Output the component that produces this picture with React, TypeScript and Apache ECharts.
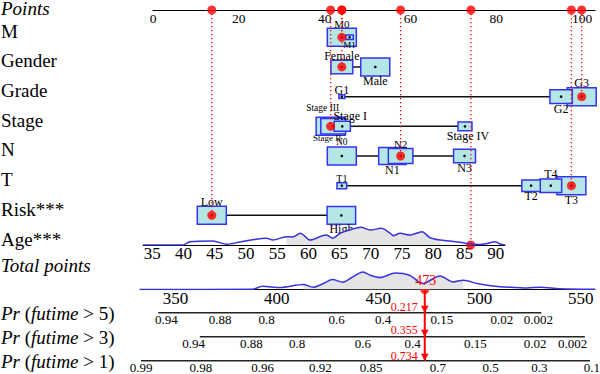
import React, { useEffect, useRef } from 'react';
import * as echarts from 'echarts';

const FONT = '"Liberation Serif", "Times New Roman", serif';

// ---------- Points axis ----------
const pointsTicks = [0, 20, 40, 60, 80, 100];

// ---------- Categorical predictors (levels, points, frequencies) ----------
const rowLabels = ['M', 'Gender', 'Grade', 'Stage', 'N', 'T', 'Risk***', 'Age***'];

const mLevels = ['M0', 'M1'];
const mPoints = [44.0, 45.8];
const mCounts = [330, 22];

const genderLevels = ['Female', 'Male'];
const genderPoints = [44.0, 51.8];
const genderCounts = [127, 225];

const gradeLevels = ['G1', 'G2', 'G3'];
const gradePoints = [44.0, 95.1, 99.9];
const gradeCounts = [9, 128, 215];

const stageLevels = ['Stage I', 'Stage II', 'Stage III', 'Stage IV'];
const stagePoints = [44.1, 42.0, 41.4, 72.7];
const stageCounts = [47, 110, 150, 35];

const nLevels = ['N0', 'N1', 'N2', 'N3'];
const nPoints = [44.0, 55.8, 57.7, 72.6];
const nCounts = [105, 95, 75, 60];

const tLevels = ['T1', 'T2', 'T3', 'T4'];
const tPoints = [44.0, 88.1, 97.5, 92.7];
const tCounts = [18, 65, 160, 90];

const riskLevels = ['Low', 'High'];
const riskPoints = [13.7, 43.9];
const riskCounts = [176, 170];

const selectedLevels = ['M0', 'Female', 'G3', 'Stage III', 'N2', 'T3', 'Low'];

// ---------- Age (continuous) ----------
const ageTicks = [35, 40, 45, 50, 55, 60, 65, 70, 75, 80, 85, 90];
const ageAxisRange = [33.5, 91.5];
const agePointsAt35 = 0;
const agePointsAt90 = 79.9;
const patientAge = 86;
const ageDensityX = [33.5, 39.9, 41, 44.7, 46.9, 49, 51.1, 53.3, 54.3, 56.5, 57.5, 58.7, 60.3, 62.1, 62.9, 63.9, 65.1, 67.1, 68.4, 69.9, 71.7, 73.1, 73.6, 74.7, 76.3, 78.2, 79.5, 81.1, 82.7, 84.3, 85.9, 87.5, 88.6, 89.9, 90.7, 91.5];
const ageDensityY = [0, 0, 3.3, 4, 0.7, 3, 5.3, 6.7, 5, 8.3, 8, 11.7, 5, 9, 10, 6.7, 11.7, 16, 17.7, 15, 16.7, 11.7, 9.3, 11.7, 10, 13.3, 7.3, 5, 4, 2.7, 1, 0.5, 1.5, 3.3, 1, 0];
const ageShadeRange = [55, 81.5];

// ---------- Total points ----------
const totalTicks = [350, 400, 450, 500, 550];
const totalAxisRange = [332.5, 557];
const totalDensityX = [332.5, 388, 393, 401.5, 413, 418, 423, 427.5, 432.5, 437, 442.5, 446, 451, 458.5, 465.5, 472, 480.5, 487, 492, 499, 506.5, 515, 523.5, 530, 539.5, 557];
const totalDensityY = [0, 0.3, 3.2, 2, 5, 2.3, 6, 10, 7.3, 12, 17.5, 14.3, 12, 16.6, 14.3, 6, 13.6, 7.6, 9.3, 6, 3.6, 2.3, 1.6, 2.3, 0.8, 0.3];
const totalShadeRange = [412, 498];
const totalPoints = 473;

// ---------- Survival probability axes (tick label, total points where it sits) ----------
const pr5Labels = ['0.94', '0.88', '0.8', '0.6', '0.4', '0.15', '0.02', '0.002'];
const pr5At = [345.5, 372, 395, 429.5, 452.5, 481.5, 511, 529];
const pr5Range = [341.5, 530.5];

const pr3Labels = ['0.94', '0.88', '0.8', '0.6', '0.4', '0.15', '0.02', '0.002'];
const pr3At = [359, 387.5, 410, 442.5, 467, 498, 527.5, 546];
const pr3Range = [362, 552];

const pr1Labels = ['0.99', '0.98', '0.96', '0.92', '0.85', '0.7', '0.5', '0.3', '0.1'];
const pr1At = [333, 362.5, 393, 421.5, 446.5, 479.5, 505.5, 529.5, 555.5];
const pr1Range = [333, 554.5];

const predictedProb = [0.217, 0.355, 0.734];

// ---------- styles ----------
const RED = '#ff0000';
const BOX_FILL = '#b4e6e6';
const BOX_STROKE = '#3434f0';
const CURVE = '#3535dc';
const SHADE = '#e4e4e4';
const BOX_W = 29;
const BOX_H = 18;
const ROW_AXIS = 0.08; // row coordinate of the Points axis line
const POINTS_MAX = 103;
const LABEL_SIZE: Record<string, number> = { M1: 9, 'Stage III': 9.5, 'Stage II': 9, N0: 9.5, T1: 10, M0: 11, N2: 11 };
const LABEL_DX: Record<string, number> = { 'Stage III': -8, 'Stage I': 8, 'Stage II': -6, 'Stage IV': 3 };
const LABEL_DY: Record<string, number> = { 'Stage III': -5, 'Stage I': -1, 'Stage II': -1 };

type BoxItem = { name: string; pts: number; row: number; scale: number; side: number };

function buildRows() {
  return [
    { levels: mLevels, points: mPoints, counts: mCounts },
    { levels: genderLevels, points: genderPoints, counts: genderCounts },
    { levels: gradeLevels, points: gradePoints, counts: gradeCounts },
    { levels: stageLevels, points: stagePoints, counts: stageCounts },
    { levels: nLevels, points: nPoints, counts: nCounts },
    { levels: tLevels, points: tPoints, counts: tCounts },
    { levels: riskLevels, points: riskPoints, counts: riskCounts },
  ];
}

function agePoints(age: number) {
  return agePointsAt35 + ((age - 35) * (agePointsAt90 - agePointsAt35)) / 55;
}

function lookup(labels: string[], at: number[]) {
  return (v: number) => {
    const i = at.findIndex((t) => Math.abs(t - v) < 1e-6);
    return i >= 0 ? labels[i] : '';
  };
}

function buildOption() {
  const rows = buildRows();
  const boxItems: BoxItem[] = [];
  const connectors: number[][] = [];
  const selDots: number[][] = [];
  const axisDots: number[][] = [];
  const dotted: number[][] = [];

  rows.forEach((row, i) => {
    const r = i + 1;
    const maxC = Math.max(...row.counts);
    const idx = row.levels.map((_, k) => k);
    const byX = [...idx].sort((a, b) => row.points[a] - row.points[b]);
    const side: Record<number, number> = {};
    byX.forEach((k, rank) => (side[k] = rank % 2 === 0 ? -1 : 1));
    const byCount = [...idx].sort((a, b) => row.counts[b] - row.counts[a]);
    byCount.forEach((k) => {
      boxItems.push({ name: row.levels[k], pts: row.points[k], row: r, scale: Math.sqrt(row.counts[k] / maxC), side: side[k] });
    });
    connectors.push([Math.min(...row.points), Math.max(...row.points), r]);
    row.levels.forEach((lv, k) => {
      if (selectedLevels.includes(lv)) {
        selDots.push([row.points[k], r]);
        axisDots.push([row.points[k], ROW_AXIS]);
        dotted.push([row.points[k], r]);
      }
    });
  });
  const ageP = agePoints(patientAge);
  axisDots.push([ageP, ROW_AXIS]);
  dotted.push([ageP, 8]);

  const ageLine = ageDensityX.map((x, i) => [x, ageDensityY[i]]);
  const ageShade = ageLine.filter((p) => p[0] >= ageShadeRange[0] && p[0] <= ageShadeRange[1]);
  const totLine = totalDensityX.map((x, i) => [x, totalDensityY[i]]);
  const totShade = totLine.filter((p) => p[0] >= totalShadeRange[0] && p[0] <= totalShadeRange[1]);

  const baseGrid = { outerBoundsMode: 'none', containLabel: false };
  const lbl = (size: number, extra: any = {}) => ({ fontSize: size, fontFamily: FONT, color: '#000', ...extra });
  const hiddenY = (g: number, max: number) => ({ gridIndex: g, type: 'value', min: 0, max, show: false });
  const totAxis = (g: number, labels: string[], at: number[], size: number, showLine: boolean, margin: number, lineHeight?: number) => ({
    gridIndex: g,
    type: 'value',
    min: totalAxisRange[0],
    max: totalAxisRange[1],
    axisLine: { show: showLine, onZero: false, lineStyle: { color: '#000', width: 1 } },
    axisTick: { show: false },
    splitLine: { show: false },
    axisLabel: lbl(size, { margin, customValues: at, formatter: lookup(labels, at), ...(lineHeight ? { lineHeight } : {}) }),
  });

  return {
    animation: false,
    backgroundColor: '#ffffff',
    grid: [
      { ...baseGrid, left: 153, width: 442, top: 10, height: 235 },
      { ...baseGrid, left: 143, width: 362, top: 225, height: 20 },
      { ...baseGrid, left: 140, width: 455, top: 269.5, height: 20 },
      { ...baseGrid, left: 140, width: 455, top: 302.7, height: 10 },
      { ...baseGrid, left: 140, width: 455, top: 326.7, height: 10 },
      { ...baseGrid, left: 140, width: 455, top: 350.7, height: 10 },
    ],
    xAxis: [
      {
        gridIndex: 0,
        type: 'value',
        position: 'top',
        min: 0,
        max: POINTS_MAX,
        axisLine: { show: true, onZero: false, lineStyle: { color: '#000', width: 1.2 } },
        axisTick: { show: false },
        splitLine: { show: false },
        axisLabel: lbl(13.5, { inside: true, margin: 1, customValues: pointsTicks }),
      },
      {
        gridIndex: 1,
        type: 'value',
        min: ageAxisRange[0],
        max: ageAxisRange[1],
        axisLine: { show: true, onZero: false, lineStyle: { color: '#000', width: 1 } },
        axisTick: { show: false },
        splitLine: { show: false },
        axisLabel: lbl(17, { margin: 0, customValues: ageTicks }),
      },
      totAxis(2, totalTicks.map(String), totalTicks, 17, true, 0),
      totAxis(3, pr5Labels, pr5At, 13, false, 1, 12),
      totAxis(4, pr3Labels, pr3At, 13, false, 1, 12),
      totAxis(5, pr1Labels, pr1At, 13, false, 0.5, 12),
    ],
    yAxis: [
      { gridIndex: 0, type: 'value', min: ROW_AXIS, max: 8, inverse: true, show: false },
      hiddenY(1, 20),
      hiddenY(2, 20),
      hiddenY(3, 1),
      hiddenY(4, 1),
      hiddenY(5, 1),
    ],
    series: [
      {
        type: 'custom',
        xAxisIndex: 0,
        yAxisIndex: 0,
        data: connectors,
        renderItem: (_p: any, api: any) => {
          const a = api.coord([api.value(0), api.value(2)]);
          const b = api.coord([api.value(1), api.value(2)]);
          return { type: 'line', shape: { x1: a[0], y1: a[1], x2: b[0], y2: b[1] }, style: { stroke: '#111', lineWidth: 1.5 } };
        },
      },
      {
        type: 'custom',
        xAxisIndex: 0,
        yAxisIndex: 0,
        data: boxItems.map((b) => [b.pts, b.row]),
        renderItem: (params: any, api: any) => {
          const it = boxItems[params.dataIndex];
          const c = api.coord([it.pts, it.row]);
          const w = BOX_W * it.scale;
          const h = BOX_H * it.scale;
          const fs = LABEL_SIZE[it.name] ?? 12;
          const dx = LABEL_DX[it.name] ?? 0;
          const dy = LABEL_DY[it.name] ?? 0;
          const ly = (it.side < 0 ? c[1] - h / 2 - 4.5 : c[1] + h / 2 + 5) + dy;
          return {
            type: 'group',
            children: [
              { type: 'rect', shape: { x: c[0] - w / 2, y: c[1] - h / 2, width: w, height: h }, style: { fill: BOX_FILL, stroke: BOX_STROKE, lineWidth: 1.5 } },
              { type: 'circle', shape: { cx: c[0], cy: c[1], r: 1.3 }, style: { fill: '#000' } },
              { type: 'text', x: c[0] + dx, y: ly, style: { text: it.name, fill: '#000', fontSize: fs, fontFamily: FONT, align: 'center', verticalAlign: 'middle', lineHeight: fs } },
            ],
          };
        },
      },
      {
        type: 'custom',
        xAxisIndex: 0,
        yAxisIndex: 0,
        data: dotted,
        renderItem: (_p: any, api: any) => {
          const a = api.coord([api.value(0), ROW_AXIS]);
          const b = api.coord([api.value(0), api.value(1)]);
          return { type: 'line', shape: { x1: a[0], y1: a[1], x2: b[0], y2: b[1] }, style: { stroke: RED, lineWidth: 1.3, lineDash: [1.2, 2.8] } };
        },
      },
      {
        type: 'scatter',
        xAxisIndex: 0,
        yAxisIndex: 0,
        clip: false,
        symbolSize: 9,
        itemStyle: { color: RED },
        data: [...selDots, ...axisDots],
      },
      // Age density
      {
        type: 'line',
        xAxisIndex: 1,
        yAxisIndex: 1,
        data: ageShade,
        smooth: 0.3,
        symbol: 'none',
        lineStyle: { width: 0 },
        areaStyle: { color: SHADE, opacity: 1 },
      },
      {
        type: 'line',
        xAxisIndex: 1,
        yAxisIndex: 1,
        data: ageLine,
        smooth: 0.3,
        symbol: 'none',
        lineStyle: { color: CURVE, width: 1.5 },
      },
      {
        type: 'scatter',
        xAxisIndex: 1,
        yAxisIndex: 1,
        clip: false,
        symbolSize: 9,
        itemStyle: { color: RED },
        data: [[patientAge, 0]],
      },
      // Total points density
      {
        type: 'line',
        xAxisIndex: 2,
        yAxisIndex: 2,
        data: totShade,
        smooth: 0.3,
        symbol: 'none',
        lineStyle: { width: 0 },
        areaStyle: { color: SHADE, opacity: 1 },
      },
      {
        type: 'line',
        xAxisIndex: 2,
        yAxisIndex: 2,
        data: totLine,
        smooth: 0.3,
        symbol: 'none',
        lineStyle: { color: CURVE, width: 1.5 },
      },
      {
        type: 'scatter',
        xAxisIndex: 2,
        yAxisIndex: 2,
        clip: false,
        symbolSize: 9,
        itemStyle: { color: RED },
        data: [[totalPoints, 0]],
      },
      // Probability axis lines
      ...[
        [3, pr5Range],
        [4, pr3Range],
        [5, pr1Range],
      ].map(([g, rg]: any) => ({
        type: 'line',
        xAxisIndex: g,
        yAxisIndex: g,
        data: [
          [rg[0], 0],
          [rg[1], 0],
        ],
        symbol: 'none',
        clip: false,
        lineStyle: { color: '#222', width: 1.6 },
      })),
    ],
  };
}

function buildGraphic(chart: any) {
  const px = (i: number, v: number[]) => chart.convertToPixel({ xAxisIndex: i, yAxisIndex: i }, v) as number[];
  const els: any[] = [];
  const baseText = { fill: '#000', fontSize: 19, fontFamily: FONT, align: 'left', verticalAlign: 'middle', lineHeight: 14 };
  const rich = { i: { fontStyle: 'italic', fontSize: 19, fontFamily: FONT, fill: '#000', lineHeight: 14 } };

  els.push({ type: 'text', x: 1, y: px(0, [0, ROW_AXIS])[1] - 2, style: { ...baseText, text: 'Points', fontStyle: 'italic' } });
  rowLabels.forEach((t, i) => {
    els.push({ type: 'text', x: 1, y: px(0, [0, i + 1])[1] - 6, style: { ...baseText, text: t } });
  });
  els.push({ type: 'text', x: 1, y: px(2, [totalAxisRange[0], 0])[1] - 24, style: { ...baseText, text: 'Total points', fontStyle: 'italic' } });
  const prYears = [5, 3, 1];
  prYears.forEach((yr, k) => {
    els.push({
      type: 'text',
      x: 1,
      y: px(3 + k, [totalAxisRange[0], 0])[1] + 1,
      style: { ...baseText, text: `{i|Pr} ({i|futime} > ${yr})`, rich },
    });
  });

  const t = px(2, [totalPoints, 0]);
  const ends = [3, 4, 5].map((i) => px(i, [totalPoints, 0]));
  const probDy = [-5.5, -6.5, -5];
  els.push({ type: 'line', shape: { x1: t[0], y1: t[1], x2: t[0], y2: ends[2][1] }, style: { stroke: RED, lineWidth: 2 }, z: 100 });
  ends.forEach((p, k) => {
    els.push({ type: 'polygon', shape: { points: [[p[0] - 3.8, p[1] - 7], [p[0] + 3.8, p[1] - 7], [p[0], p[1]]] }, style: { fill: RED }, z: 101 });
    els.push({
      type: 'text',
      x: p[0] - 7,
      y: p[1] + probDy[k],
      style: { text: predictedProb[k].toFixed(3), fill: RED, fontSize: 12, fontFamily: FONT, align: 'right', verticalAlign: 'middle', lineHeight: 10 },
      z: 101,
    });
  });
  els.push({
    type: 'text',
    x: t[0] + 1,
    y: t[1] - 9,
    style: { text: String(totalPoints), fill: RED, fontSize: 14, fontFamily: FONT, align: 'center', verticalAlign: 'middle' },
    z: 101,
  });
  return els;
}

export default function App() {
  const ref = useRef<HTMLDivElement>(null);
  useEffect(() => {
    const chart = echarts.init(ref.current!, null, { renderer: 'svg' });
    chart.setOption(buildOption() as any);
    chart.setOption({ graphic: buildGraphic(chart) } as any);
    return () => chart.dispose();
  }, []);
  return <div ref={ref} style={{ position: 'fixed', left: 0, top: 0, width: 600, height: 374, background: '#fff' }} />;
}
